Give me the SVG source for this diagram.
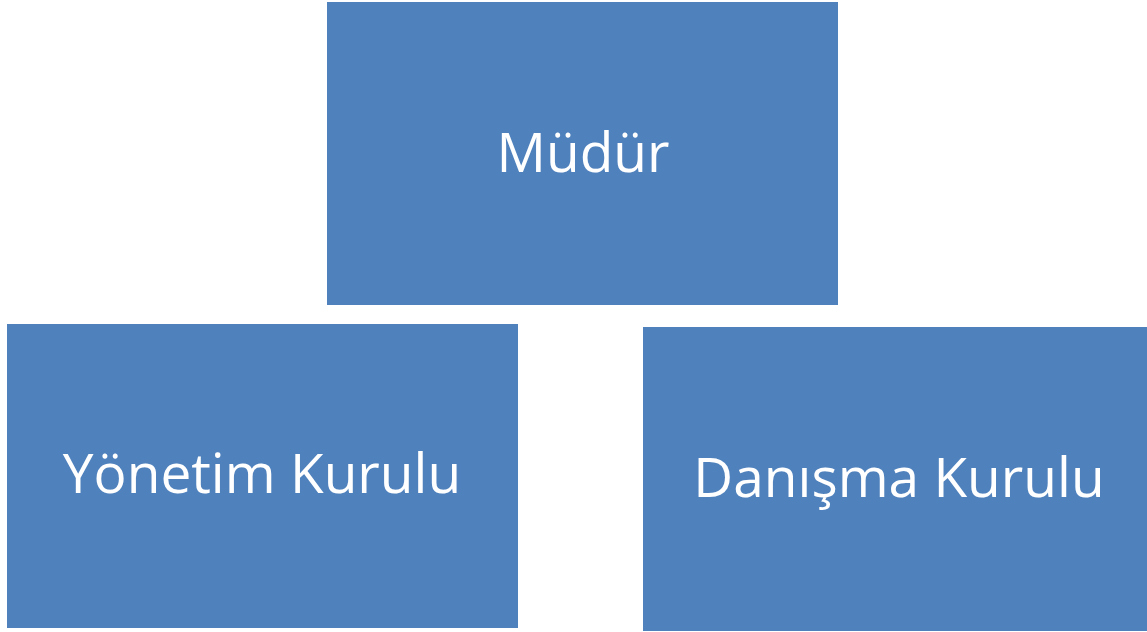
<svg xmlns="http://www.w3.org/2000/svg" width="1147" height="632" viewBox="0 0 1147 632">
<style>
.box{fill:#4F81BD;}
.lbl{font-family:"Open Sans","Noto Sans","Liberation Sans",sans-serif;font-size:55px;fill:#FFFFFF;text-anchor:middle;}
</style>
<rect width="1147" height="632" fill="#FFFFFF"/>
<g id="connectors"></g>
<g id="mudur">
<rect class="box" x="327" y="2" width="511" height="303"/>
<text class="lbl" x="583" y="172">Müdür</text>
</g>
<g id="yonetim-kurulu">
<rect class="box" x="7" y="324" width="511" height="304"/>
<text class="lbl" x="262" y="493">Yönetim Kurulu</text>
</g>
<g id="danisma-kurulu">
<rect class="box" x="643" y="327" width="504" height="304"/>
<text class="lbl" x="899" y="497">Danışma Kurulu</text>
</g>
</svg>
